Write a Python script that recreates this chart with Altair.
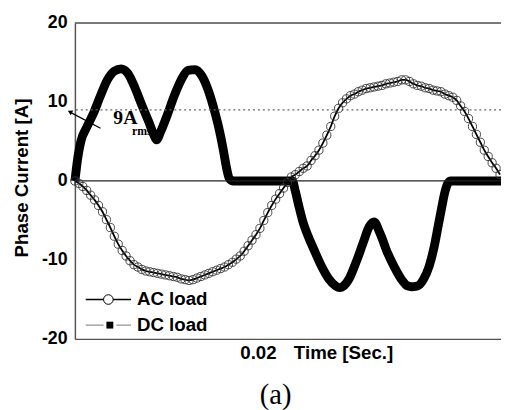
import altair as alt
import pandas as pd
import numpy as np

# ---------------- data ----------------
# AC load: samples every 0.0002 s starting at 0.0107 s
ac_t0 = 0.0107
ac_step = 0.0002
ac_values = [
    0, -0.3, -0.7, -1.2, -1.8, -2.4, -3.1, -3.9, -4.9, -5.9,
    -7.0, -8.0, -8.8, -9.5, -10.1, -10.6, -10.9, -11.2, -11.4, -11.5,
    -11.6, -11.7, -11.8, -11.9, -12.0, -12.1, -12.2, -12.4, -12.5, -12.6,
    -12.5, -12.3, -12.1, -11.9, -11.7, -11.5, -11.3, -11.1, -10.9, -10.6,
    -10.3, -9.9, -9.5, -8.9, -8.2, -7.5, -6.8, -6.0, -5.0, -4.0,
    -3.1, -2.3, -1.6, -0.9, -0.2, 0.5, 0.8, 1.2, 1.6, 1.9,
    2.6, 3.2, 3.9, 4.8, 5.8, 6.9, 8.2, 9.2, 9.9, 10.4,
    10.8, 11.0, 11.3, 11.5, 11.7, 11.8, 11.9, 12.0, 12.1, 12.3,
    12.4, 12.5, 12.6, 12.8, 12.8, 12.6, 12.3, 12.1, 12.0, 11.8,
    11.7, 11.5, 11.4, 11.3, 11.0, 10.8, 10.6, 10.2, 9.5, 8.8,
    7.9, 6.9, 5.9, 4.9, 3.9, 3.1, 2.3, 1.6, 0.8,
]
ac_time = [round(ac_t0 + i * ac_step, 5) for i in range(len(ac_values))]

# DC load
dc_time = [
    0.0107, 0.01085, 0.0110, 0.0113, 0.01165, 0.0120, 0.01235, 0.0127, 0.01305, 0.0134,
    0.01375, 0.0141, 0.01445, 0.0147, 0.01485, 0.01505, 0.0154, 0.01575, 0.0161, 0.01645,
    0.0168, 0.01715, 0.0175, 0.0178, 0.01805, 0.01825, 0.0184, 0.01855, 0.01875,
    0.02175, 0.0219, 0.0221, 0.0223, 0.02255, 0.0229, 0.02325, 0.0236, 0.02395, 0.02415,
    0.02435, 0.02465, 0.025, 0.02535, 0.02565, 0.0259, 0.0262, 0.0266, 0.02695, 0.0273,
    0.0276, 0.0278, 0.0281, 0.0284, 0.0287, 0.02895, 0.02915, 0.02935, 0.0295, 0.02965,
    0.0298, 0.03235,
]
dc_values = [
    0, 3.0, 5.0, 6.8, 8.6, 10.8, 12.8, 13.9, 14.2, 13.6,
    11.8, 9.6, 7.5, 5.9, 5.2, 6.2, 8.4, 10.8, 12.8, 14.0,
    14.1, 13.3, 11.3, 8.8, 6.3, 3.8, 1.7, 0.3, 0,
    0, -1.3, -3.4, -5.3, -7.0, -9.0, -10.9, -12.4, -13.3, -13.5,
    -13.3, -12.3, -10.2, -7.8, -5.8, -5.2, -6.6, -9.2, -11.0, -12.5,
    -13.3, -13.4, -13.3, -12.5, -10.8, -8.4, -5.8, -3.2, -1.4, -0.3,
    0, 0,
]

y_ticks = [-20, -10, 0, 10, 20]
x_ticks = [0.02]
rms_level = 9

ac_df = pd.DataFrame({"t": ac_time, "v": ac_values})
dc_df = pd.DataFrame({"t": dc_time, "v": dc_values})
one = pd.DataFrame({"a": [0]})

SANS = "Liberation Sans"
SERIF = "Liberation Serif"
FRAME = "#555555"

xscale = alt.Scale(domain=[0.0107, 0.03235], nice=False, zero=False)
yscale = alt.Scale(domain=[-20, 20], nice=False)

x_axis = alt.Axis(values=x_ticks, format=".2f", ticks=False, grid=False,
                  domainColor=FRAME, domainWidth=1.5, labelFont=SANS,
                  labelFontSize=19, labelFontWeight="bold", labelColor="black",
                  labelPadding=5, title=None)
y_axis = alt.Axis(values=y_ticks, ticks=False, grid=False, domainColor=FRAME,
                  domainWidth=1.5, labelFont=SANS, labelFontSize=18,
                  labelExpr="datum.value + ''",
                  labelFontWeight="bold", labelColor="black", labelPadding=8,
                  title="Phase Current [A]", titleFont=SANS, titleFontSize=19,
                  titleFontWeight="bold", titleColor="black", titleAngle=270,
                  titleAlign="center", titleBaseline="middle", titleX=-54, titleY=157)

base = alt.Chart(one)

top_line = base.mark_rule(color=FRAME, strokeWidth=1.5).encode(y=alt.datum(20, scale=yscale))
rms_line = base.mark_rule(color="#666666", strokeWidth=1.3, strokeDash=[2, 3]).encode(
    y=alt.datum(rms_level, scale=yscale))
zero_line = base.mark_rule(color="#222222", strokeWidth=1.3).encode(y=alt.datum(0, scale=yscale))

ann_9a = base.mark_text(font=SERIF, fontSize=20, fontWeight="bold", align="left",
                        baseline="middle", color="black").encode(
    x=alt.datum(0.01265, scale=xscale), y=alt.datum(7.9, scale=yscale), text=alt.value("9A"))
ann_rms = base.mark_text(font=SERIF, fontSize=12, fontWeight="bold", align="left",
                         baseline="middle", color="black").encode(
    x=alt.datum(0.0136, scale=xscale), y=alt.datum(6.3, scale=yscale), text=alt.value("rms"))
arrow = base.mark_rule(color="black", strokeWidth=1.3).encode(
    x=alt.datum(0.0120, scale=xscale), y=alt.datum(6.67, scale=yscale),
    x2=alt.datum(0.0105), y2=alt.datum(8.66))
arrow_head = base.mark_point(shape="triangle", filled=True, color="black", size=30,
                             opacity=1, angle=298).encode(
    x=alt.datum(0.01048, scale=xscale), y=alt.datum(8.72, scale=yscale))

dc_line = alt.Chart(dc_df).mark_line(color="black", strokeWidth=9,
                                     interpolate="monotone").encode(
    x=alt.X("t:Q", scale=xscale, axis=x_axis),
    y=alt.Y("v:Q", scale=yscale, axis=y_axis),
)
ac_line = alt.Chart(ac_df).mark_line(color="black", strokeWidth=1.8,
                                     interpolate="monotone").encode(
    x=alt.X("t:Q", scale=xscale), y=alt.Y("v:Q", scale=yscale))
ac_pts = alt.Chart(ac_df).mark_point(shape="circle", filled=False, color="#333333",
                                     opacity=1, strokeWidth=0.9, size=70).encode(
    x=alt.X("t:Q", scale=xscale), y=alt.Y("v:Q", scale=yscale))

# manual legend (pixel positions inside plot area)
leg_ac_line = base.mark_rule(color="black", strokeWidth=1.5).encode(
    x=alt.value(11), x2=alt.value(57), y=alt.value(281))
leg_ac_pt = base.mark_point(shape="circle", filled=True, fill="white", stroke="black",
                            opacity=1, strokeWidth=1, size=95).encode(
    x=alt.value(34), y=alt.value(281))
leg_ac_txt = base.mark_text(font=SANS, fontSize=19, fontWeight="bold", align="left",
                            baseline="middle", color="black").encode(
    x=alt.value(63), y=alt.value(281), text=alt.value("AC load"))
leg_dc_l1 = base.mark_rule(color="#777777", strokeWidth=1).encode(
    x=alt.value(11), x2=alt.value(29), y=alt.value(307))
leg_dc_l2 = base.mark_rule(color="#777777", strokeWidth=1).encode(
    x=alt.value(42), x2=alt.value(57), y=alt.value(307))
leg_dc_pt = base.mark_point(shape="square", filled=True, color="black", opacity=1,
                            size=49).encode(x=alt.value(35.5), y=alt.value(307))
leg_dc_txt = base.mark_text(font=SANS, fontSize=19, fontWeight="bold", align="left",
                            baseline="middle", color="black").encode(
    x=alt.value(63), y=alt.value(307), text=alt.value("DC load"))

time_title = base.mark_text(font=SANS, fontSize=19, fontWeight="bold", align="center",
                            baseline="middle", color="black").encode(
    x=alt.datum(0.02435, scale=xscale), y=alt.datum(-21.75, scale=yscale),
    text=alt.value("Time [Sec.]"))
panel_lbl = base.mark_text(font=SERIF, fontSize=29, align="center", baseline="middle",
                           color="black").encode(
    x=alt.datum(0.0209, scale=xscale), y=alt.datum(-27.1, scale=yscale),
    text=alt.value("(a)"))

chart = alt.layer(
    dc_line, top_line, rms_line, zero_line, ann_9a, ann_rms, arrow, arrow_head,
    ac_line, ac_pts,
    leg_ac_line, leg_ac_pt, leg_ac_txt, leg_dc_l1, leg_dc_l2, leg_dc_pt, leg_dc_txt,
    time_title, panel_lbl,
).properties(
    width=433, height=321,
    autosize=alt.AutoSizeParams(type="none"),
    padding={"left": 68, "top": 12, "right": 0, "bottom": 69},
).configure_view(stroke=None).configure(background="white")

chart.save("out.html", embed_options={"renderer": "svg", "actions": False})
